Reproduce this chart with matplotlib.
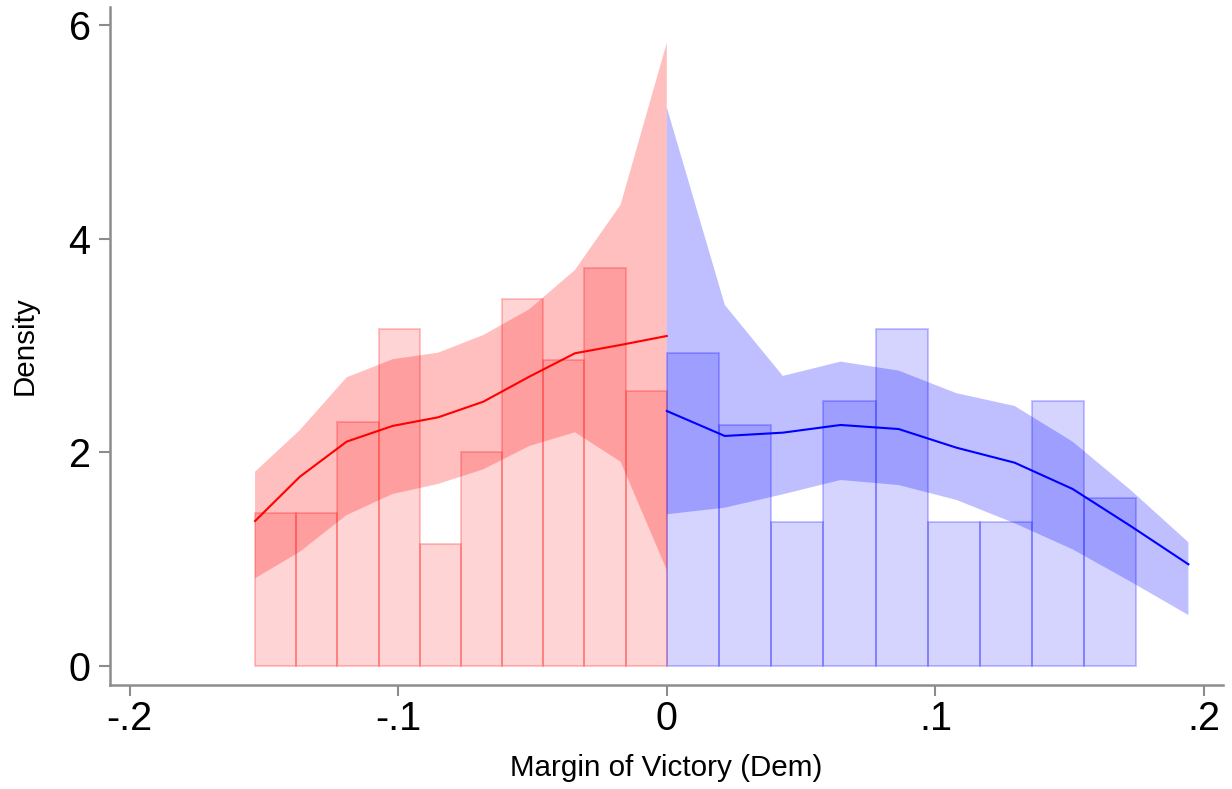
import numpy as np
import matplotlib
matplotlib.use("Agg")
import matplotlib.pyplot as plt
from matplotlib.colors import to_rgba

plt.rcParams['font.family'] = ['Liberation Sans', 'DejaVu Sans']

# Histogram (density) of the vote margin, split at zero
rep_bin_start = -0.1533
rep_bin_width = 0.01533
rep_density = [1.429, 1.429, 2.287, 3.150, 1.143, 2.004, 3.435, 2.862, 3.722, 2.575]

dem_bin_start = 0.0
dem_bin_width = 0.01943
dem_density = [2.930, 2.255, 1.351, 2.476, 3.155, 1.351, 1.351, 2.476, 1.573]

# Local polynomial density fit with confidence band, left of the cutoff
rep_x = [-0.1533, -0.1366, -0.1192, -0.1021, -0.0851, -0.0683, -0.0512, -0.0342, -0.0172, 0.0]
rep_fit = [1.357, 1.772, 2.100, 2.247, 2.328, 2.474, 2.708, 2.927, 3.005, 3.089]
rep_hi = [1.819, 2.209, 2.702, 2.871, 2.933, 3.098, 3.339, 3.707, 4.318, 5.835]
rep_lo = [0.821, 1.070, 1.413, 1.610, 1.704, 1.841, 2.059, 2.188, 1.912, 0.899]

# ... and right of the cutoff
dem_x = [0.0, 0.0216, 0.0432, 0.0647, 0.0863, 0.1079, 0.1295, 0.1511, 0.1727, 0.1942]
dem_fit = [2.387, 2.153, 2.184, 2.256, 2.218, 2.043, 1.903, 1.657, 1.310, 0.952]
dem_hi = [5.229, 3.379, 2.715, 2.849, 2.765, 2.553, 2.434, 2.100, 1.647, 1.158]
dem_lo = [1.420, 1.482, 1.607, 1.741, 1.694, 1.554, 1.336, 1.092, 0.789, 0.477]

xticks = [-0.2, -0.1, 0.0, 0.1, 0.2]
xtick_labels = ['-.2', '-.1', '0', '.1', '.2']
yticks = [0, 2, 4, 6]
ytick_labels = ['0', '2', '4', '6']

fig = plt.figure(figsize=(12.32, 7.89), dpi=100)
ax = fig.add_axes([0.0893, 0.1318, 0.9032, 0.8593])

for start, width, dens, col in [(rep_bin_start, rep_bin_width, rep_density, 'red'),
                                (dem_bin_start, dem_bin_width, dem_density, 'blue')]:
    lefts = start + width * np.arange(len(dens))
    ax.bar(lefts, dens, width=width, align='edge',
           facecolor=to_rgba(col, 0.17), edgecolor=to_rgba(col, 0.22),
           linewidth=1.4, zorder=2)

ax.fill_between(rep_x, rep_lo, rep_hi, facecolor=to_rgba('red', 0.25),
                linewidth=0, zorder=1)
ax.fill_between(dem_x, dem_lo, dem_hi, facecolor=to_rgba('blue', 0.25),
                linewidth=0, zorder=1)

ax.plot(rep_x, rep_fit, color='red', linewidth=1.5, zorder=3)
ax.plot(dem_x, dem_fit, color='blue', linewidth=1.5, zorder=3)

ax.set_xlim(-0.2073, 0.2070)
ax.set_ylim(-0.178, 6.168)

ax.set_xticks(xticks)
ax.set_xticklabels(xtick_labels)
ax.set_yticks(yticks)
ax.set_yticklabels(ytick_labels)

for side in ('top', 'right'):
    ax.spines[side].set_visible(False)
for side in ('left', 'bottom'):
    ax.spines[side].set_color('#8c8c8c')
    ax.spines[side].set_linewidth(1.8)

ax.tick_params(axis='both', colors='#8c8c8c', length=8, width=1.5,
               labelcolor='black', labelsize=28.5)
ax.tick_params(axis='y', pad=6)
ax.tick_params(axis='x', pad=3)

ax.set_xlabel('Margin of Victory (Dem)', fontsize=21.3, va='center', ha='center')
ax.set_ylabel('Density', fontsize=21.3, va='center', ha='center')
ax.xaxis.set_label_coords(0.5, -0.1224)
ax.yaxis.set_label_coords(-0.0764, 0.5)

fig.savefig('out.png', dpi=100, facecolor='white')
